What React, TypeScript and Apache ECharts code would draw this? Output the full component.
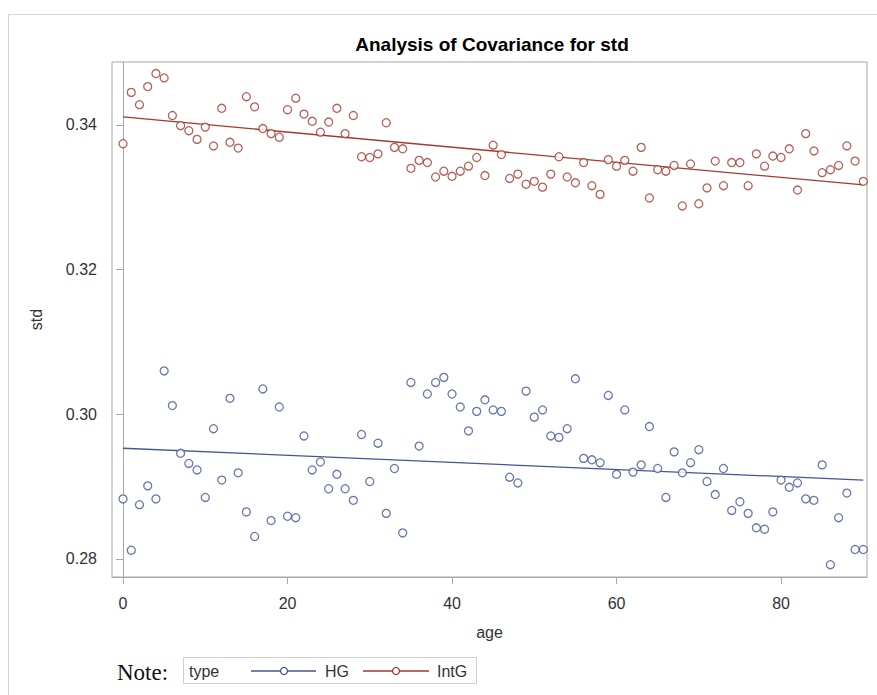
import React, { useEffect, useRef } from "react";
import * as echarts from "echarts";

const ages = [
  0, 1, 2, 3, 4, 5, 6, 7, 8, 9, 10, 11, 12, 13, 14, 15, 16, 17, 18, 19, 20,
  21, 22, 23, 24, 25, 26, 27, 28, 29, 30, 31, 32, 33, 34, 35, 36, 37, 38, 39, 40,
  41, 42, 43, 44, 45, 46, 47, 48, 49, 50, 51, 52, 53, 54, 55, 56, 57, 58, 59, 60,
  61, 62, 63, 64, 65, 66, 67, 68, 69, 70, 71, 72, 73, 74, 75, 76, 77, 78, 79, 80,
  81, 82, 83, 84, 85, 86, 87, 88, 89, 90,
];

const hgValues = [
  0.2883, 0.2812, 0.2875, 0.2901, 0.2883, 0.306, 0.3012, 0.2946, 0.2932, 0.2923,
  0.2885, 0.298, 0.2909, 0.3022, 0.2919, 0.2865, 0.2831, 0.3035, 0.2853, 0.301,
  0.2859, 0.2857, 0.297, 0.2923, 0.2934, 0.2897, 0.2917, 0.2897, 0.2881, 0.2972,
  0.2907, 0.296, 0.2863, 0.2925, 0.2836, 0.3044, 0.2956, 0.3028, 0.3044, 0.3051,
  0.3028, 0.301, 0.2977, 0.3004, 0.302, 0.3006, 0.3004, 0.2913, 0.2905, 0.3032,
  0.2996, 0.3006, 0.297, 0.2968, 0.298, 0.3049, 0.2939, 0.2937, 0.2933, 0.3026,
  0.2917, 0.3006, 0.292, 0.293, 0.2983, 0.2925, 0.2885, 0.2948, 0.2919, 0.2933,
  0.2951, 0.2907, 0.2889, 0.2925, 0.2867, 0.2879, 0.2863, 0.2843, 0.2841, 0.2865,
  0.2909, 0.2899, 0.2905, 0.2883, 0.2881, 0.293, 0.2792, 0.2857, 0.2891, 0.2813,
  0.2813,
];

const intgValues = [
  0.3374, 0.3445, 0.3428, 0.3453, 0.3471, 0.3465, 0.3413, 0.3399, 0.3392, 0.338,
  0.3397, 0.3371, 0.3423, 0.3376, 0.3368, 0.3439, 0.3425, 0.3395, 0.3388, 0.3383,
  0.3421, 0.3437, 0.3415, 0.3405, 0.339, 0.3404, 0.3423, 0.3388, 0.3413, 0.3356,
  0.3355, 0.336, 0.3403, 0.3369, 0.3367, 0.334, 0.3351, 0.3348, 0.3328, 0.3336,
  0.3329, 0.3336, 0.3343, 0.3355, 0.333, 0.3372, 0.3359, 0.3326, 0.3332, 0.3318,
  0.3322, 0.3314, 0.3332, 0.3356, 0.3328, 0.332, 0.3348, 0.3316, 0.3304, 0.3352,
  0.3343, 0.3351, 0.3336, 0.3369, 0.3299, 0.3338, 0.3336, 0.3344, 0.3288, 0.3346,
  0.3291, 0.3313, 0.335, 0.3316, 0.3348, 0.3348, 0.3316, 0.336, 0.3343, 0.3357,
  0.3355, 0.3367, 0.331, 0.3388, 0.3364, 0.3334, 0.3338, 0.3344, 0.3371, 0.335,
  0.3322,
];

// fitted lines: [age, std] at both ends
const hgFitAges = [0, 90];
const hgFitValues = [0.2953, 0.2909];
const intgFitAges = [0, 90];
const intgFitValues = [0.3411, 0.3317];

const xTicks = [0, 20, 40, 60, 80];
const yTicks = [0.28, 0.3, 0.32, 0.34];

const seriesNames = ["HG", "IntG"];
const BLUE = "#445694";
const RED = "#A23A2E";
const FONT = "'Liberation Sans', Arial, sans-serif";

export default function App() {
  const ref = useRef<HTMLDivElement>(null);

  useEffect(() => {
    if (!ref.current) return;
    const chart = echarts.init(ref.current, null, { renderer: "svg" });

    const pairs = (xs: number[], ys: number[]) => xs.map((x, i) => [x, ys[i]]);

    const scatterStyle = (c: string) => ({
      type: "scatter" as const,
      symbol: "circle",
      symbolSize: 8,
      itemStyle: { color: "#ffffff", borderColor: c, borderWidth: 1.3 },
      z: 3,
    });

    const legendY = 671;

    chart.setOption({
      animation: false,
      backgroundColor: "#ffffff",
      grid: {
        left: 112,
        right: 10,
        top: 62,
        bottom: 118,
        show: true,
        borderColor: "#a8a8a8",
        borderWidth: 1,
        backgroundColor: "transparent",
      },
      xAxis: {
        type: "value",
        min: -1.34,
        max: 90.45,
        name: "age",
        nameLocation: "middle",
        nameGap: 47,
        nameTextStyle: { fontFamily: FONT, fontSize: 16, color: "#333" },
        axisLine: { show: true, lineStyle: { color: "#a8a8a8" } },
        axisTick: {
          show: true,
          length: 7,
          customValues: xTicks,
          lineStyle: { color: "#a8a8a8" },
        },
        axisLabel: {
          customValues: xTicks,
          margin: 18,
          fontFamily: FONT,
          fontSize: 16,
          color: "#333",
        },
        splitLine: { show: false },
      },
      yAxis: {
        type: "value",
        min: 0.2775,
        max: 0.3487,
        name: "std",
        nameLocation: "middle",
        nameGap: 68,
        nameRotate: 90,
        nameTextStyle: { fontFamily: FONT, fontSize: 16, color: "#333" },
        axisLine: { show: true, lineStyle: { color: "#a8a8a8" } },
        axisTick: {
          show: true,
          length: 7,
          customValues: yTicks,
          lineStyle: { color: "#a8a8a8" },
        },
        axisLabel: {
          customValues: yTicks,
          margin: 15,
          fontFamily: FONT,
          fontSize: 16,
          color: "#333",
          formatter: (v: number) => v.toFixed(2),
        },
        splitLine: { show: false },
      },
      series: [
        {
          name: seriesNames[0] + " fit",
          type: "line",
          data: pairs(hgFitAges, hgFitValues),
          symbol: "none",
          lineStyle: { color: BLUE, width: 1.3 },
          z: 2,
        },
        {
          name: seriesNames[1] + " fit",
          type: "line",
          data: pairs(intgFitAges, intgFitValues),
          symbol: "none",
          lineStyle: { color: RED, width: 1.3 },
          z: 2,
        },
        { name: seriesNames[0], data: pairs(ages, hgValues), ...scatterStyle(BLUE) },
        { name: seriesNames[1], data: pairs(ages, intgValues), ...scatterStyle(RED) },
      ],
      graphic: [
        {
          type: "rect",
          shape: { x: 8.5, y: 14.5, width: 880, height: 700 },
          style: { fill: "none", stroke: "#d4d4d4", lineWidth: 1 },
          silent: true,
          z: -10,
        },
        {
          type: "text",
          x: 492,
          y: 44,
          style: {
            text: "Analysis of Covariance for std",
            fontFamily: FONT,
            fontSize: 19,
            fontWeight: "bold",
            fill: "#000",
            textAlign: "center",
            textVerticalAlign: "middle",
          },
        },
        {
          type: "text",
          x: 117,
          y: legendY + 1,
          style: {
            text: "Note:",
            fontFamily: "'Liberation Serif', 'DejaVu Serif', serif",
            fontSize: 23,
            fill: "#111",
            textAlign: "left",
            textVerticalAlign: "middle",
          },
        },
        {
          type: "rect",
          shape: { x: 183.5, y: 657.5, width: 293, height: 26 },
          style: { fill: "#fff", stroke: "#cfcfcf", lineWidth: 1 },
        },
        {
          type: "text",
          x: 189,
          y: legendY,
          style: {
            text: "type",
            fontFamily: FONT,
            fontSize: 16,
            fill: "#333",
            textVerticalAlign: "middle",
          },
        },
        {
          type: "line",
          shape: { x1: 251, y1: legendY, x2: 316, y2: legendY },
          style: { stroke: BLUE, lineWidth: 1.3 },
        },
        {
          type: "circle",
          shape: { cx: 284, cy: legendY, r: 3.5 },
          style: { fill: "#fff", stroke: BLUE, lineWidth: 1.3 },
        },
        {
          type: "text",
          x: 325,
          y: legendY,
          style: {
            text: seriesNames[0],
            fontFamily: FONT,
            fontSize: 16,
            fill: "#333",
            textVerticalAlign: "middle",
          },
        },
        {
          type: "line",
          shape: { x1: 363, y1: legendY, x2: 429, y2: legendY },
          style: { stroke: RED, lineWidth: 1.3 },
        },
        {
          type: "circle",
          shape: { cx: 396, cy: legendY, r: 3.5 },
          style: { fill: "#fff", stroke: RED, lineWidth: 1.3 },
        },
        {
          type: "text",
          x: 437,
          y: legendY,
          style: {
            text: seriesNames[1],
            fontFamily: FONT,
            fontSize: 16,
            fill: "#333",
            textVerticalAlign: "middle",
          },
        },
      ],
    });

    return () => chart.dispose();
  }, []);

  return (
    <div
      ref={ref}
      style={{ position: "absolute", left: 0, top: 0, width: 877, height: 695 }}
    />
  );
}
